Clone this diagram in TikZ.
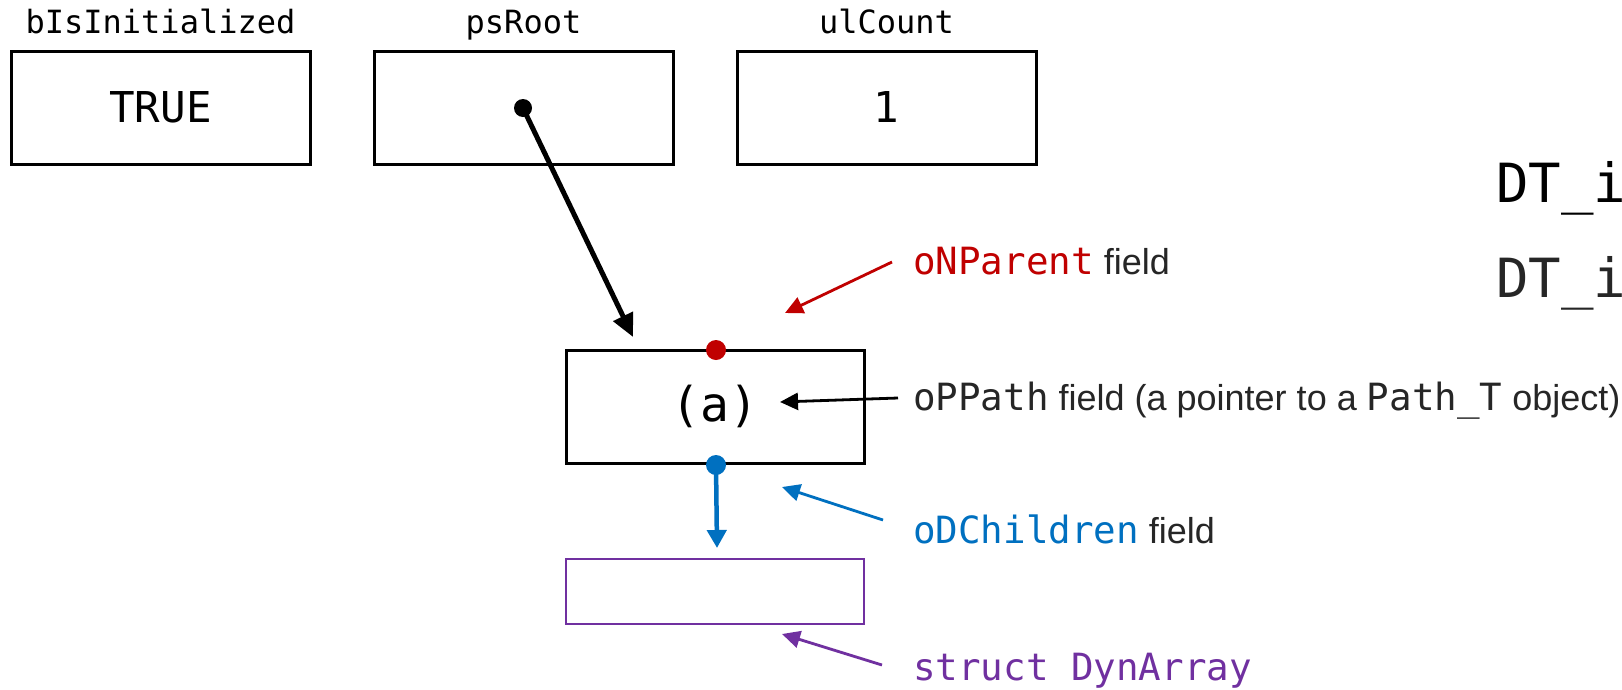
\documentclass[tikz,border=0pt]{standalone}
\usepackage{fontspec}
\setmainfont{Liberation Sans}
\newfontfamily\monofam{DejaVu Sans Mono}
\usetikzlibrary{arrows.meta}
\definecolor{cred}{HTML}{C00000}
\definecolor{cblue}{HTML}{0070C0}
\definecolor{cpurple}{HTML}{7030A0}
\definecolor{cgray}{HTML}{262626}
\newcommand\mytt[1]{{\monofam\fontsize{37.5}{42}\selectfont #1}}
\begin{document}
\begin{tikzpicture}[x=1pt,y=-1pt,
  membox/.style={draw, line width=3pt, minimum width=299pt, minimum height=113pt, inner sep=0pt,
    font=\monofam\fontsize{42.5}{50}\selectfont},
  toplbl/.style={inner sep=0pt, anchor=base, font=\monofam\fontsize{32}{38}\selectfont},
  lbl/.style={inner sep=0pt, anchor=base west, font=\fontsize{36}{42}\selectfont, text=cgray},
  bigtt/.style={inner sep=0pt, anchor=base west, font=\monofam\fontsize{54}{60}\selectfont},
  dotnode/.style={circle, fill, inner sep=0pt, minimum size=20pt},
  thinarr/.style={line width=2.8pt, -{Triangle[length=18pt,width=17pt]}},
  thickarr/.style={line width=5pt, -{Triangle[length=23pt,width=21pt]}}]
\useasboundingbox (0,0) rectangle (1622,689);
\fill[white] (0,0) rectangle (1622,689);

% top row
\node[membox] (b1) at (160.5,107.5) {TRUE};
\node[membox] (b2) at (523.5,107.5) {};
\node[membox] (b3) at (886.5,107.5) {1};
\node[toplbl] (l1) at (160.5,33) {bIsInitialized};
\node[toplbl] (l2) at (523.5,33) {psRoot};
\node[toplbl] (l3) at (886.5,33) {ulCount};

% node (a) and DynArray
\node[membox, minimum width=298pt, font=\monofam\fontsize{48}{56}\selectfont] (na) at (715,406.5) {(a)};
\node[draw=cpurple, line width=2.6pt, minimum width=298pt, minimum height=65pt, inner sep=0pt] (dyn) at (715,591.5) {};

% dots
\node[dotnode, minimum size=18pt] (pdot) at (523,108) {};
\node[dotnode, fill=cred] (rdot) at (716,350) {};
\node[dotnode, fill=cblue] (bdot) at (716,465) {};

% pointer arrows
\coordinate (rtip) at (633,337);
\draw[thickarr] (pdot.center) -- (rtip);
\coordinate (btip) at (717,548);
\draw[thickarr, cblue, line width=4.5pt, -{Triangle[length=18pt,width=19pt]}] (bdot.center) -- (btip);

% labels
\node[lbl] (lN) at (913,274) {\textcolor{cred}{\mytt{oNParent}} field};
\node[lbl] (lP) at (913,410) {\mytt{oPPath} field (a pointer to a \mytt{Path\_T} object)};
\node[lbl] (lD) at (913,543) {\textcolor{cblue}{\mytt{oDChildren}} field};
\node[lbl, text=cpurple] (lS) at (913,680) {\mytt{struct DynArray}};

\coordinate (nS) at (892,262); \coordinate (nT) at (785,313);
\draw[thinarr, cred] (nS) -- (nT);
\coordinate (pS) at (898,398); \coordinate (pT) at (780,402);
\draw[thinarr, black] (pS) -- (pT);
\coordinate (dS) at (883,520); \coordinate (dT) at (782,487);
\draw[thinarr, cblue] (dS) -- (dT);
\coordinate (sS) at (882,665); \coordinate (sT) at (782,634);
\draw[thinarr, cpurple] (sS) -- (sT);

% right side (cut off at the picture's edge, as in the reference)
\node[bigtt] (dt1) at (1496,202) {DT\_i};
\node[bigtt, text=cgray] (dt2) at (1496,297) {DT\_i};
\end{tikzpicture}
\end{document}
